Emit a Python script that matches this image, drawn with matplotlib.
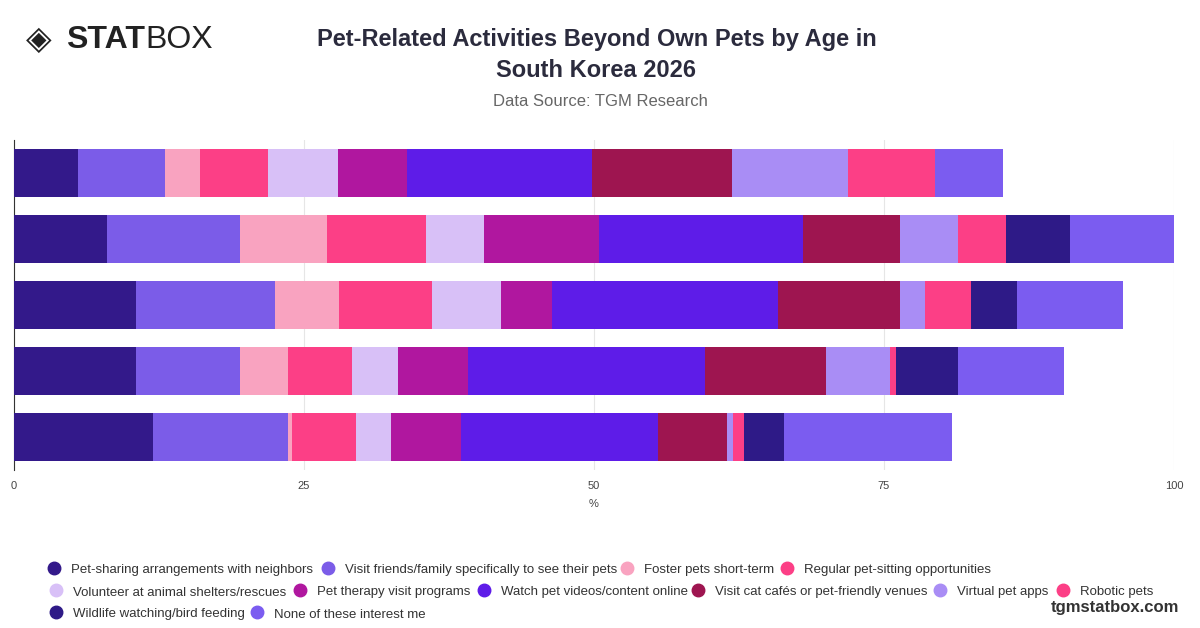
import matplotlib
matplotlib.use("Agg")
import matplotlib.pyplot as plt
from matplotlib.lines import Line2D
import numpy as np

series = ["Pet-sharing arrangements with neighbors", "Visit friends/family specifically to see their pets",
          "Foster pets short-term", "Regular pet-sitting opportunities", "Volunteer at animal shelters/rescues",
          "Pet therapy visit programs", "Watch pet videos/content online", "Visit cat cafés or pet-friendly venues",
          "Virtual pet apps", "Robotic pets", "Wildlife watching/bird feeding", "None of these interest me"]
colors = ["#33198a", "#7b5ce8", "#f9a3c0", "#fc3f86", "#d8c0f7", "#b0179f", "#5e1ce8", "#9e1550",
          "#a98df5", "#fc3f86", "#2e1a87", "#7b5cf0"]
values = [
    [5.5, 7.5, 3.0, 5.9, 6.0, 6.0, 15.9, 12.1, 10.0, 7.5, 0.0, 5.9],
    [8.0, 11.5, 7.5, 8.5, 5.0, 9.9, 17.6, 8.4, 5.0, 4.1, 5.5, 9.0],
    [10.5, 12.0, 5.5, 8.0, 6.0, 4.4, 19.5, 10.5, 2.1, 4.0, 4.0, 9.1],
    [10.5, 9.0, 4.1, 5.5, 4.0, 6.0, 20.5, 10.4, 5.5, 0.5, 5.4, 9.1],
    [12.0, 11.6, 0.4, 5.5, 3.0, 6.0, 17.0, 6.0, 0.5, 0.9, 3.5, 14.5],
]
xticks = [0, 25, 50, 75, 100]

plt.rcParams['font.family'] = ['Liberation Sans', 'DejaVu Sans']
fig = plt.figure(figsize=(12, 6.28), dpi=100)
ax = fig.add_axes([0.0117, 0.252, 0.9666, 0.525])
vals = np.array(values)
ypos = np.arange(len(values))
left = np.zeros(len(values))
for j in range(len(series)):
    ax.barh(ypos, vals[:, j], left=left, height=0.73, color=colors[j], zorder=3)
    left += vals[:, j]
ax.set_ylim(len(values) - 0.5, -0.5)
ax.set_xlim(0, 100)
ax.set_xticks(xticks)
ax.set_xticklabels([str(t) for t in xticks], fontsize=8, color="#444")
ax.set_yticks([])
ax.grid(axis="x", color="#e6e6e6", zorder=0)
for s in ["top", "right", "bottom"]:
    ax.spines[s].set_visible(False)
ax.spines["left"].set_color("#333")
ax.tick_params(axis="x", length=0, pad=8)
ax.set_xlabel("%", fontsize=8, color="#444", labelpad=6)

fig.text(0.497, 1 - 55 / 628, "Pet-Related Activities Beyond Own Pets by Age in\nSouth Korea 2026",
         ha="center", va="center", fontsize=17, fontweight="bold", color="#2b2b3d", linespacing=1.45)
fig.text(0.5, 0.838, "Data Source: TGM Research", ha="center", va="center", fontsize=12, color="#666")
fig.text(0.022, 0.937, "◈", fontsize=24, color="#222", va="center", ha="left", family="DejaVu Sans")
fig.text(0.055, 0.937, "STAT", fontsize=23, fontweight="bold", color="#222", va="center", ha="left")
fig.text(0.121, 0.937, "BOX", fontsize=23, color="#222", va="center", ha="left")
fig.text(0.9825, 0.033, "tgmstatbox.com", fontsize=12, fontweight="bold", color="#333", ha="right", va="center")

rows = [(569, [54, 328, 627, 787]), (591, [56, 300, 484, 698, 940, 1063]), (613, [56, 257])]
k = 0
for y, xs in rows:
    for x in xs:
        fig.add_artist(Line2D([x / 1200], [1 - (y - 1) / 628], marker="o", markersize=9, color=colors[k],
                              linestyle="none", transform=fig.transFigure))
        fig.text((x + 17) / 1200, 1 - y / 628, series[k], color="#333", fontsize=9.5, ha="left",
                 va="center_baseline")
        k += 1

fig.savefig("out.png", dpi=100)
